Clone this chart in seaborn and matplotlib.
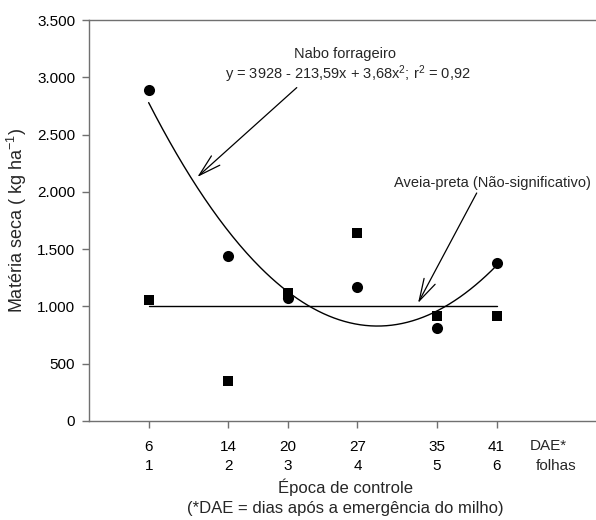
import numpy as np
import pandas as pd
import matplotlib
matplotlib.use("Agg")
import matplotlib.pyplot as plt
import seaborn as sns

# ---- data ----
dae = [6, 14, 20, 27, 35, 41]
folhas = [1, 2, 3, 4, 5, 6]
nabo = [2890, 1440, 1070, 1170, 815, 1380]
aveia = [1055, 345, 1120, 1645, 915, 915]
nabo_coef = [3928, -213.59, 3.68]   # y = a + b x + c x^2
aveia_mean = [1000, 1000]
aveia_range = [6, 41]
yticks = [0, 500, 1000, 1500, 2000, 2500, 3000, 3500]
ytick_labels = ["0", "500", "1.000", "1.500", "2.000", "2.500", "3.000", "3.500"]

sns.set_style("ticks")
plt.rcParams['font.family'] = ['Liberation Sans', 'DejaVu Sans']
plt.rcParams['mathtext.fontset'] = 'custom'
plt.rcParams['mathtext.rm'] = 'Liberation Sans'
plt.rcParams['mathtext.it'] = 'Liberation Sans:italic'
plt.rcParams['mathtext.bf'] = 'Liberation Sans:bold'

fig = plt.figure(figsize=(5.96, 5.20), dpi=100)
W, H = 596, 520
ax = fig.add_axes([89 / W, (H - 421) / H, (W - 89) / W, 401 / H])

df_n = pd.DataFrame({"dae": dae, "ms": nabo})
df_a = pd.DataFrame({"dae": dae, "ms": aveia})

# fitted curve for Nabo forrageiro
xs = np.linspace(dae[0], dae[-1], 200)
ys = nabo_coef[0] + nabo_coef[1] * xs + nabo_coef[2] * xs ** 2
sns.lineplot(x=xs, y=ys, color="black", lw=1.0, ax=ax)
sns.lineplot(x=aveia_range, y=aveia_mean, color="black", lw=1.0, ax=ax)

sns.scatterplot(data=df_n, x="dae", y="ms", marker="o", s=64, color="black",
                edgecolor="black", linewidth=0, ax=ax, zorder=3)
sns.scatterplot(data=df_a, x="dae", y="ms", marker="s", s=50, color="black",
                edgecolor="black", linewidth=0, ax=ax, zorder=3)

ax.set_xlim(0, 51)
ax.set_ylim(0, 3500)
ax.set_yticks(yticks)
ax.set_yticklabels(ytick_labels, fontsize=11)
ax.set_xticks(dae)
ax.set_xticklabels([f"{d}\n{f}" for d, f in zip(dae, folhas)], fontsize=11,
                   linespacing=1.5)

spine_c = "#707070"
for s in ["left", "top", "bottom"]:
    ax.spines[s].set_color(spine_c)
    ax.spines[s].set_linewidth(1.0)
ax.spines["right"].set_visible(False)
ax.tick_params(axis="both", direction="out", length=5, width=1.0, color=spine_c,
               labelcolor="black")
ax.tick_params(axis="x", pad=8.5)
ax.tick_params(axis="y", pad=5)

ax.set_ylabel("Matéria seca ( kg ha$^{-1}$)", fontsize=13, labelpad=6)
ax.set_xlabel("Época de controle\n(*DAE = dias após a emergência do milho)",
              fontsize=12, linespacing=1.35)
ax.xaxis.set_label_coords((345 - 89) / 507, (421 - 479) / 401)

trans = ax.get_xaxis_transform()
ax.text(44.3, (421 - 446) / 401, "DAE*", transform=trans, fontsize=11,
        ha="left", va="center", clip_on=False)
ax.text(44.9, (421 - 466) / 401, "folhas", transform=trans, fontsize=11,
        ha="left", va="center", clip_on=False)

arrow = dict(arrowstyle="->,head_length=1.6,head_width=0.45", color="black",
             lw=0.9, shrinkA=0, shrinkB=0)
ax.text(25.8, 3200, "Nabo forrageiro", fontsize=10.5, ha="center", va="center")
ax.text(26.0, 3025, "y = 3928 - 213,59x + 3,68x$^2$; r$^2$ = 0,92",
        fontsize=10.5, ha="center", va="center")
ax.annotate("", xy=(10.9, 2130), xytext=(20.9, 2910), arrowprops=arrow)

ax.text(40.6, 2080, "Aveia-preta (Não-significativo)", fontsize=10.5,
        ha="center", va="center", clip_on=False)
ax.annotate("", xy=(33.1, 1030), xytext=(39.0, 1990), arrowprops=arrow)

fig.savefig("out.png", dpi=100)
